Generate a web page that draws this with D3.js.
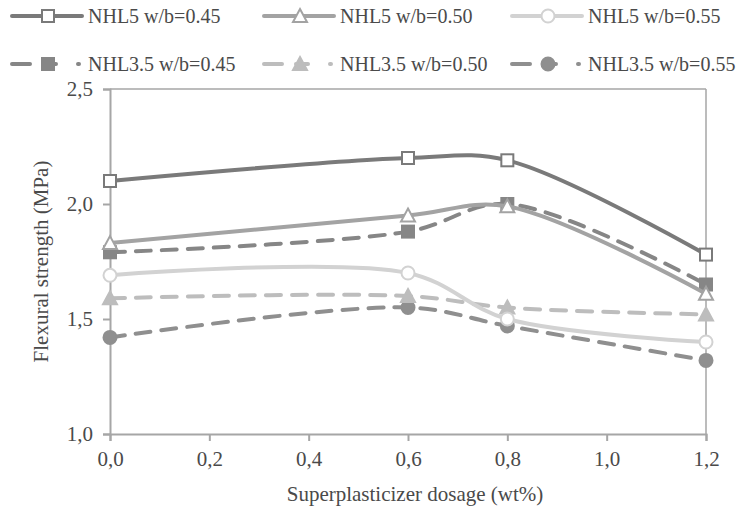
<!DOCTYPE html>
<html>
<head>
<meta charset="utf-8">
<script src="https://cdn.jsdelivr.net/npm/d3@7"></script>
<style>
  body { margin: 0; background: #fff; }
  svg { display: block; }
</style>
</head>
<body>
<svg id="chart" width="742" height="512" font-family="Liberation Serif"></svg>
<script>
  const dosage = [0, 0.6, 0.8, 1.2];
  const xTicks = [0, 0.2, 0.4, 0.6, 0.8, 1.0, 1.2];
  const yTicks = [1.0, 1.5, 2.0, 2.5];

  const seriesNames = [
    "NHL5 w/b=0.45", "NHL5 w/b=0.50", "NHL5 w/b=0.55",
    "NHL3.5 w/b=0.45", "NHL3.5 w/b=0.50", "NHL3.5 w/b=0.55"
  ];
  const nhl5_045 = [2.10, 2.20, 2.19, 1.78];
  const nhl5_050 = [1.83, 1.95, 1.99, 1.61];
  const nhl5_055 = [1.69, 1.70, 1.50, 1.40];
  const nhl35_045 = [1.79, 1.88, 2.00, 1.65];
  const nhl35_050 = [1.59, 1.60, 1.55, 1.52];
  const nhl35_055 = [1.42, 1.55, 1.47, 1.32];

  (function () {
    const FONT = "Liberation Serif";
    const styles = [
      { color: "#7a7a7a", dash: null, shape: "square", fill: false },
      { color: "#a3a3a3", dash: null, shape: "triangle", fill: false },
      { color: "#d2d2d2", dash: null, shape: "circle", fill: false },
      { color: "#868686", dash: "15,11", shape: "square", fill: true },
      { color: "#bdbdbd", dash: "15,11", shape: "triangle", fill: true },
      { color: "#8f8f8f", dash: "15,11", shape: "circle", fill: true }
    ];
    const values = [nhl5_045, nhl5_050, nhl5_055, nhl35_045, nhl35_050, nhl35_055];

    const svg = d3.select("#chart");
    const plot = { left: 110, right: 706, top: 89, bottom: 434 };
    const axisColor = "#a6a6a6";
    const textColor = "#4a4a4a";

    const x = d3.scaleLinear().domain([0, 1.2]).range([plot.left, plot.right]);
    const y = d3.scaleLinear().domain([1.0, 2.5]).range([plot.bottom, plot.top]);

    // frame: top and right borders
    svg.append("line").attr("x1", plot.left).attr("x2", plot.right).attr("y1", plot.top).attr("y2", plot.top)
      .attr("stroke", axisColor).attr("stroke-width", 1.5);
    svg.append("line").attr("x1", plot.right).attr("x2", plot.right).attr("y1", plot.top).attr("y2", plot.bottom)
      .attr("stroke", axisColor).attr("stroke-width", 1.5);

    const fmt = (d) => d3.format(".1f")(d).replace(".", ",");
    const xAxis = svg.append("g").attr("transform", `translate(0,${plot.bottom})`)
      .call(d3.axisBottom(x).tickValues(xTicks).tickSize(7).tickPadding(10).tickFormat(fmt));
    const yAxis = svg.append("g").attr("transform", `translate(${plot.left},0)`)
      .call(d3.axisLeft(y).tickValues(yTicks).tickSize(7).tickPadding(10).tickFormat(fmt));
    [xAxis, yAxis].forEach((g) => {
      g.attr("font-family", FONT).attr("font-size", 21);
      g.select(".domain").attr("stroke", axisColor).attr("stroke-width", 2);
      g.selectAll(".tick line").attr("stroke", axisColor).attr("stroke-width", 2);
      g.selectAll(".tick text").attr("fill", textColor);
    });

    svg.append("text").attr("x", 415).attr("y", 501).attr("text-anchor", "middle")
      .attr("font-family", FONT).attr("font-size", 21).attr("fill", textColor)
      .text("Superplasticizer dosage (wt%)");
    svg.append("text").attr("transform", `translate(48,${(plot.top + plot.bottom) / 2}) rotate(-90)`)
      .attr("text-anchor", "middle").attr("font-family", FONT).attr("font-size", 21).attr("fill", textColor)
      .text("Flexural strength (MPa)");

    const line = d3.line().x((d) => x(d[0])).y((d) => y(d[1])).curve(d3.curveCatmullRom.alpha(0.5));

    function drawMarker(g, s, cx, cy) {
      const fill = s.fill ? s.color : "#fff";
      if (s.shape === "square") {
        g.append("rect").attr("x", cx - 6).attr("y", cy - 6).attr("width", 12).attr("height", 12)
          .attr("fill", fill).attr("stroke", s.color).attr("stroke-width", 2);
      } else if (s.shape === "triangle") {
        g.append("path").attr("d", `M${cx},${cy - 7}L${cx + 7},${cy + 6}L${cx - 7},${cy + 6}Z`)
          .attr("fill", fill).attr("stroke", s.color).attr("stroke-width", 2);
      } else {
        g.append("circle").attr("cx", cx).attr("cy", cy).attr("r", 6.5)
          .attr("fill", fill).attr("stroke", s.color).attr("stroke-width", 2);
      }
    }

    [5, 4, 3, 2, 1, 0].forEach((i) => {
      const s = styles[i];
      const pts = dosage.map((d, j) => [d, values[i][j]]);
      const g = svg.append("g");
      g.append("path").attr("d", line(pts)).attr("fill", "none").attr("stroke", s.color)
        .attr("stroke-width", 4).attr("stroke-linecap", "round")
        .attr("stroke-dasharray", s.dash);
      pts.forEach((p) => drawMarker(g, s, x(p[0]), y(p[1])));
    });

    // legend
    const legX = [12, 264, 512];
    const legY = [16, 64];
    seriesNames.forEach((name, i) => {
      const s = styles[i];
      const lx = legX[i % 3], ly = legY[Math.floor(i / 3)];
      const g = svg.append("g");
      g.append("line").attr("x1", lx).attr("x2", lx + 70).attr("y1", ly).attr("y2", ly)
        .attr("stroke", s.color).attr("stroke-width", 4).attr("stroke-linecap", "round")
        .attr("stroke-dasharray", s.dash ? "18,14,12,22,1,40" : null);
      drawMarker(g, s, lx + 36, ly);
      g.append("text").attr("x", lx + 76).attr("y", ly + 7)
        .attr("font-family", FONT).attr("font-size", 20).attr("fill", textColor).text(name);
    });
  })();
</script>
</body>
</html>
